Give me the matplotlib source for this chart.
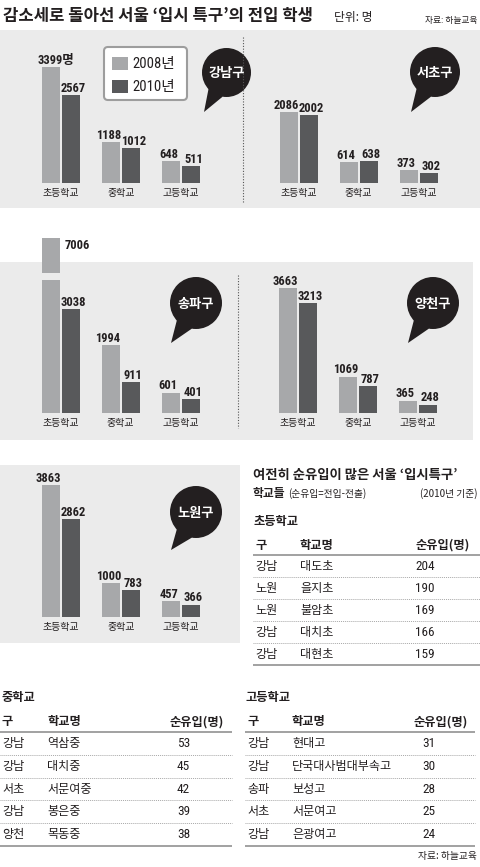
import matplotlib
matplotlib.use("Agg")
import matplotlib.pyplot as plt
import numpy as np
from matplotlib import font_manager
from matplotlib.patches import Rectangle, Circle, Polygon, FancyBboxPatch

# fonts: condensed latin for numbers, CJK for hangul
KR = "Noto Sans CJK KR"
_names = {f.name for f in font_manager.fontManager.ttflist}
NUM = next((n for n in ["Roboto Condensed", "PT Sans Narrow", "Liberation Sans"]
            if n in _names), "DejaVu Sans")
plt.rcParams["font.family"] = [KR, "DejaVu Sans"]
NUM_SIZE = 9.0

# ---- data ----
LEVELS = ["초등학교", "중학교", "고등학교"]
YEARS = ["2008년", "2010년"]
UNIT = "명"

GANGNAM_2008 = [3399, 1188, 648]
GANGNAM_2010 = [2567, 1012, 511]
SEOCHO_2008 = [2086, 614, 373]
SEOCHO_2010 = [2002, 638, 302]
SONGPA_2008 = [7006, 1994, 601]
SONGPA_2010 = [3038, 911, 401]
YANGCHEON_2008 = [3663, 1069, 365]
YANGCHEON_2010 = [3213, 787, 248]
NOWON_2008 = [3863, 1000, 457]
NOWON_2010 = [2862, 783, 366]

TABLE_COLS = ["구", "학교명", "순유입(명)"]
ELEM_GU = ["강남", "노원", "노원", "강남", "강남"]
ELEM_SCHOOL = ["대도초", "을지초", "불암초", "대치초", "대현초"]
ELEM_NET = [204, 190, 169, 166, 159]
MID_GU = ["강남", "강남", "서초", "강남", "양천"]
MID_SCHOOL = ["역삼중", "대치중", "서문여중", "봉은중", "목동중"]
MID_NET = [53, 45, 42, 39, 38]
HIGH_GU = ["강남", "강남", "송파", "서초", "강남"]
HIGH_SCHOOL = ["현대고", "단국대사범대부속고", "보성고", "서문여고", "은광여고"]
HIGH_NET = [31, 30, 28, 25, 24]

# ---- style ----
W, H = 480, 867
PX_PER_UNIT = 0.0341
GROUP_PX = 60
BAR_W = 18 / GROUP_PX
OFF = 10 / GROUP_PX
C08 = "#a7a8aa"
C10 = "#58595b"
PANEL = "#ebebeb"
INK = "#231f20"
RULE = "#9a9a9a"

fig = plt.figure(figsize=(W / 100, H / 100), dpi=100)
fig.patch.set_facecolor("white")
base = fig.add_axes([0, 0, 1, 1])
base.set_xlim(0, W)
base.set_ylim(H, 0)
base.axis("off")

# gray panels
base.add_patch(Rectangle((0, 30), 480, 178, color=PANEL, lw=0))
base.add_patch(Rectangle((0, 262), 473, 178, color=PANEL, lw=0))
base.add_patch(Rectangle((0, 465), 240, 178, color=PANEL, lw=0))

# dotted dividers
base.plot([243, 243], [37, 203], color="#555555", lw=0.8, ls=(0, (1, 1.5)))
base.plot([238, 238], [275, 428], color="#555555", lw=0.8, ls=(0, (1, 1.5)))

# title
base.text(3, 16, "감소세로 돌아선 서울 ‘입시 특구’의 전입 학생", fontsize=12,
          fontweight="bold", color=INK, va="center", ha="left")
base.text(334, 17, "단위: 명", fontsize=8.5, color=INK, va="center", ha="left")
base.text(477, 21, "자료: 하늘교육", fontsize=6.3, color=INK, va="center", ha="right")


def label(ax, x, h, text, dx=0.0, ha="center"):
    ax.annotate(text, (x, h), xytext=(dx, 2.2), textcoords="offset points",
                ha=ha, va="baseline", fontsize=NUM_SIZE, fontweight="bold",
                family=[NUM, KR], color=INK)


def bar_panel(col_left, top, baseline, center0, v08, v10, unit_first=False,
              cap_px=None, break_px=None):
    ax = fig.add_axes([col_left / W, (H - baseline) / H, 240 / W, (baseline - top) / H])
    ax.patch.set_visible(False)
    for s in ax.spines.values():
        s.set_visible(False)
    ax.set_ylim(0, (baseline - top) / PX_PER_UNIT)
    ax.set_xlim(-center0 / GROUP_PX, (240 - center0) / GROUP_PX)
    x = np.arange(len(LEVELS))
    cap = cap_px / PX_PER_UNIT if cap_px else None
    for i, (a, b) in enumerate(zip(v08, v10)):
        xa, xb = x[i] - OFF, x[i] + OFF
        if cap is not None and a > cap:
            # broken bar: value does not fit the panel
            lo, hi = break_px[0] / PX_PER_UNIT, break_px[1] / PX_PER_UNIT
            ax.bar(xa, lo, width=BAR_W, color=C08, lw=0)
            ax.bar(xa, cap - hi, bottom=hi, width=BAR_W, color=C08, lw=0)
            ax.annotate(f"{a}", (xa + BAR_W / 2, cap), xytext=(3.5, -1),
                        textcoords="offset points", ha="left", va="top",
                        fontsize=NUM_SIZE, fontweight="bold", family=[NUM, KR], color=INK)
        else:
            ax.bar(xa, a, width=BAR_W, color=C08, lw=0)
            if unit_first and i == 0:
                label(ax, xa, a, f"{a}{UNIT}", dx=-9.4, ha="left")
            else:
                label(ax, xa, a, f"{a}", dx=-1.8)
        ax.bar(xb, b, width=BAR_W, color=C10, lw=0)
        label(ax, xb, b, f"{b}", dx=1.8)
    ax.set_xticks(x, LEVELS)
    ax.tick_params(axis="x", length=0, pad=3.5, labelsize=7.2, colors=INK)
    ax.set_yticks([])
    return ax


def bubble(cx, cy, r, tip, text):
    base.add_patch(Polygon([(cx - 0.72 * r, cy + 0.6 * r), (cx - 0.15 * r, cy + 0.98 * r), tip],
                           closed=True, color=INK, lw=0))
    base.add_patch(Circle((cx, cy), r, color=INK, lw=0))
    base.text(cx, cy + 1, text, color="white", ha="center", va="center",
              fontsize=9.5, fontweight="bold")


bar_panel(0, 30, 183, 61, GANGNAM_2008, GANGNAM_2010, unit_first=True)
bar_panel(240, 30, 183, 58.5, SEOCHO_2008, SEOCHO_2010)
bar_panel(0, 225, 413, 60.5, SONGPA_2008, SONGPA_2010, cap_px=175, break_px=(133, 140))
bar_panel(240, 262, 413, 58, YANGCHEON_2008, YANGCHEON_2010)
bar_panel(0, 465, 617, 61, NOWON_2008, NOWON_2010)

bubble(226.5, 72.5, 24.5, (204, 112), "강남구")
bubble(435, 72, 25, (411, 112), "서초구")
bubble(196, 303, 26, (171, 343), "송파구")
bubble(433, 303, 26, (408, 343), "양천구")
bubble(196, 512, 26, (171, 550), "노원구")

# legend box
base.add_patch(FancyBboxPatch((104, 47), 83, 53, boxstyle="round,pad=0,rounding_size=4",
                              facecolor="white", edgecolor="#9d9d9d", lw=1.5))
for k, (name, col) in enumerate(zip(YEARS, [C08, C10])):
    y0 = 57 + 23 * k
    base.add_patch(Rectangle((112, y0), 16, 13, color=col, lw=0))
    base.text(132, y0 + 7, name, fontsize=10.5, family=[NUM, KR], color=INK,
              va="center", ha="left")

# right text block
base.text(253, 475, "여전히 순유입이 많은 서울 ‘입시특구’", fontsize=9.6,
          fontweight="bold", color=INK, va="center", ha="left")
base.text(253, 494, "학교들", fontsize=8.5, fontweight="bold", color=INK,
          va="center", ha="left")
base.text(288, 494, "(순유입=전입-전출)", fontsize=7, color=INK, va="center", ha="left")
base.text(477, 494, "(2010년 기준)", fontsize=7, color=INK, va="center", ha="right")


def table(x0, x1, title, title_y, line_y, pitch, col_x, num_x, gu, school, net):
    base.text(x0 + 1, title_y, title, fontsize=8.8, fontweight="bold",
              color=INK, va="center", ha="left")
    for cx, name in zip(col_x, TABLE_COLS):
        base.text(cx, line_y - 10, name, fontsize=8.8, fontweight="bold",
                  color=INK, va="center", ha="left")
    base.plot([x0, x1], [line_y, line_y], color=RULE, lw=1.3, solid_capstyle="butt")
    for k, (g, s, n) in enumerate(zip(gu, school, net)):
        yc = line_y + 11.5 + k * pitch
        base.text(col_x[0], yc, g, fontsize=8.7, color=INK, va="center", ha="left")
        base.text(col_x[1], yc, s, fontsize=8.7, color=INK, va="center", ha="left")
        base.text(num_x, yc, f"{n}", fontsize=9.5, family=[NUM, KR], color=INK,
                  va="center", ha="left")
        yl = line_y + (k + 1) * pitch
        if k < len(gu) - 1:
            base.plot([x0, x1], [yl, yl], color="#a8a8a8", lw=0.7, ls=(0, (1, 1)))
        else:
            base.plot([x0, x1], [yl, yl], color=RULE, lw=1.3, solid_capstyle="butt")


table(253, 480, LEVELS[0], 522, 555, 22, (255, 300, 415), 415, ELEM_GU, ELEM_SCHOOL, ELEM_NET)
table(0, 232, LEVELS[1], 697, 732, 22.8, (2, 47, 170), 177, MID_GU, MID_SCHOOL, MID_NET)
table(245, 475, LEVELS[2], 697, 732, 22.8, (247, 292, 413), 422, HIGH_GU, HIGH_SCHOOL, HIGH_NET)

base.text(477, 856, "자료: 하늘교육", fontsize=7, color=INK, va="center", ha="right")

fig.savefig("out.png", dpi=100, facecolor="white")
